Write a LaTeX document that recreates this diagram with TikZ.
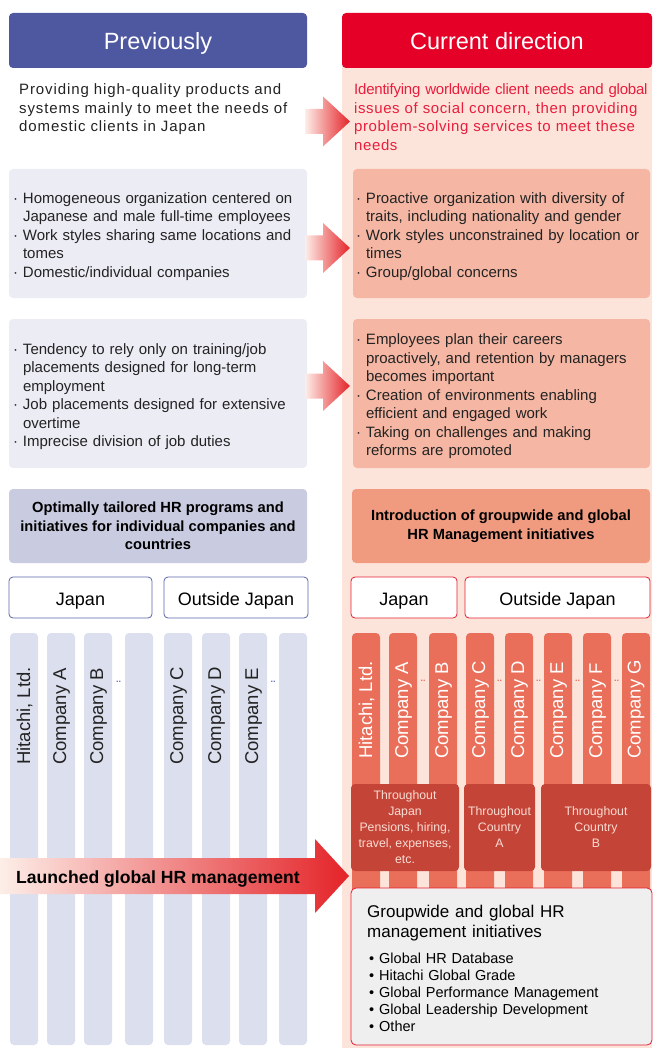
\documentclass[tikz,border=0pt]{standalone}
\usepackage{fontspec}
\setmainfont{Liberation Sans}
\usetikzlibrary{calc}
\definecolor{hdrblue}{RGB}{78,88,160}
\definecolor{hdrred}{RGB}{229,0,40}
\definecolor{pinkbg}{RGB}{253,228,219}
\definecolor{leftbox}{RGB}{236,236,245}
\definecolor{rightbox}{RGB}{245,183,163}
\definecolor{leftsum}{RGB}{201,203,224}
\definecolor{rightsum}{RGB}{240,155,128}
\definecolor{leftcol}{RGB}{220,223,238}
\definecolor{rightcol}{RGB}{234,111,90}
\definecolor{darkbox}{RGB}{196,68,56}
\definecolor{redtext}{RGB}{232,30,60}
\definecolor{greybox}{RGB}{239,239,239}
\definecolor{bluedots}{RGB}{100,110,190}
\definecolor{blueborder}{RGB}{90,100,170}
\definecolor{redborder}{RGB}{228,30,50}
\definecolor{arrowlight}{RGB}{253,238,232}
\definecolor{arrowred}{RGB}{228,35,40}
\definecolor{darktext}{RGB}{250,220,210}
\definecolor{bodytext}{RGB}{35,35,35}
\newcommand{\itemdot}{\makebox[10pt][l]{·}}
\newcommand{\itemind}{\hspace*{10pt}}
\newcommand{\bigdot}{\makebox[10pt][l]{•}}
\newcommand{\firststrut}{\rule{0pt}{17pt}}
\newcommand{\rowarrow}[1]{\shade[left color=arrowlight, right color=arrowred]
  (305,#1-12.5) -- (323,#1-12.5) -- (323,#1-25) -- (350,#1) -- (323,#1+25) -- (323,#1+12.5) -- (305,#1+12.5) -- cycle;}
\begin{document}
\begin{tikzpicture}[x=1pt,y=-1pt,
  hdrbox/.style={rounded corners=4pt, inner sep=0, text=white, text height=19, text depth=0, font=\fontsize{23.5}{28}\selectfont},
  txt/.style={inner sep=0, anchor=base west, align=left, text=bodytext, font=\fontsize{15}{18.5}\selectfont},
  listbox/.style={rounded corners=4pt, inner xsep=4pt, inner ysep=0, align=left, text=bodytext, font=\fontsize{15}{18.5}\selectfont},
  sumbox/.style={rounded corners=4pt, inner sep=0, align=center, text=black, font=\bfseries\fontsize{14.7}{18.5}\selectfont},
  regbox/.style={rounded corners=4pt, fill=white, inner sep=0, line width=0.8pt, text=black, text height=15, text depth=0, font=\fontsize{18}{20}\selectfont},
  lcol/.style={rounded corners=4pt, fill=leftcol, inner sep=0, minimum width=28, minimum height=412},
  rcol/.style={rounded corners=4pt, fill=rightcol, inner sep=0, minimum width=28, minimum height=262},
  vlab/.style={rotate=90, anchor=west, inner sep=0, font=\fontsize{18.5}{20}\selectfont},
  dots/.style={inner sep=0, font=\bfseries\fontsize{9}{9}\selectfont},
  dbox/.style={rounded corners=4pt, fill=darkbox, inner sep=0, minimum height=87, align=center, text=darktext, font=\fontsize{12.3}{16}\selectfont},
]
\useasboundingbox (0,0) rectangle (655,1048);
% pink background of right side
\fill[pinkbg] (342,60) rectangle (652,1048);
% headers
\node[hdrbox, fill=hdrblue, minimum width=298, minimum height=55] (hprev) at (158,40.5) {Previously};
\node[hdrbox, fill=hdrred, minimum width=310, minimum height=55] (hcur) at (497,40.5) {Current direction};

% row 1
\node[txt, text width=281] (t1l) at (19,95) {\addfontfeatures{LetterSpace=6}\makebox[280pt][s]{Providing high-quality products and}\\
\addfontfeatures{LetterSpace=6}\makebox[280pt][s]{systems mainly to meet the needs of}\\
\addfontfeatures{LetterSpace=6}domestic clients in Japan};
\node[txt, text=redtext, text width=298] (t1r) at (354,95) {\addfontfeatures{LetterSpace=-1.5}\makebox[297pt][s]{Identifying worldwide client needs and global}\\
\addfontfeatures{LetterSpace=4}\makebox[297pt][s]{issues of social concern, then providing}\\
\addfontfeatures{LetterSpace=4}\makebox[297pt][s]{problem-solving services to meet these}\\
needs};
\rowarrow{121.5}

% row 2
\node[listbox, fill=leftbox, text width=290, minimum height=129] (l2) at (158,233.5) {\firststrut\itemdot Homogeneous organization centered on\\
\itemind Japanese and male full-time employees\\
\itemdot Work styles sharing same locations and\\
\itemind tomes\\
\itemdot Domestic/individual companies};
\node[listbox, fill=rightbox, inner xsep=3pt, text width=291, minimum height=129] (r2) at (501.5,233.5) {\firststrut\itemdot Proactive organization with diversity of\\
\itemind traits, including nationality and gender\\
\itemdot Work styles unconstrained by location or\\
\itemind times\\
\itemdot Group/global concerns};
\rowarrow{248}

% row 3
\node[listbox, fill=leftbox, text width=290, minimum height=149] (l3) at (158,393.5) {\firststrut\itemdot Tendency to rely only on training/job\\
\itemind placements designed for long-term\\
\itemind employment\\
\itemdot Job placements designed for extensive\\
\itemind overtime\\
\itemdot Imprecise division of job duties};
\node[listbox, fill=rightbox, inner xsep=3pt, text width=291, minimum height=149] (r3) at (501.5,393.5) {\firststrut\itemdot Employees plan their careers\\
\itemind proactively, and retention by managers\\
\itemind becomes important\\
\itemdot Creation of environments enabling\\
\itemind efficient and engaged work\\
\itemdot Taking on challenges and making\\
\itemind reforms are promoted};
\rowarrow{386}

% row 4
\node[sumbox, fill=leftsum, minimum width=298, minimum height=74] (s1) at (158,526) {Optimally tailored HR programs and\\initiatives for individual companies and\\countries};
\node[sumbox, fill=rightsum, minimum width=298, minimum height=74] (s2) at (501,526) {Introduction of groupwide and global\\HR Management initiatives};

% region boxes
\node[regbox, draw=blueborder, minimum width=143, minimum height=41] (jl1) at (80.5,597.5) {Japan};
\node[regbox, draw=blueborder, minimum width=144, minimum height=41] (jl2) at (236,597.5) {Outside Japan};
\node[regbox, draw=redborder, minimum width=106, minimum height=41] (jr1) at (404,597.5) {Japan};
\node[regbox, draw=redborder, minimum width=185, minimum height=41] (jr2) at (557.5,597.5) {Outside Japan};

% left columns
\foreach \x [count=\i] in {10,47,84,125,164,202,239,279}
  \node[lcol] (lc\i) at (\x+14,839) {};
\node[vlab, text=bodytext] (ll1) at (24.5,765) {Hitachi, Ltd.};
\node[vlab, text=bodytext] (ll2) at (61.5,765) {Company A};
\node[vlab, text=bodytext] (ll3) at (98.5,765) {Company B};
\node[vlab, text=bodytext] (ll5) at (178.5,765) {Company C};
\node[vlab, text=bodytext] (ll6) at (216.5,765) {Company D};
\node[vlab, text=bodytext] (ll7) at (253.5,765) {Company E};
\node[dots, text=bluedots] (ld1) at (118.5,682) {..};
\node[dots, text=bluedots] (ld2) at (273,682) {..};

% right columns
\foreach \x [count=\i] in {352,389,429,466,505,544,583,622}
  \node[rcol] (rc\i) at (\x+14,764) {};
\node[vlab, text=white] (rl1) at (366.5,759) {Hitachi, Ltd.};
\node[vlab, text=white] (rl2) at (403.5,759) {Company A};
\node[vlab, text=white] (rl3) at (443.5,759) {Company B};
\node[vlab, text=white] (rl4) at (480.5,759) {Company C};
\node[vlab, text=white] (rl5) at (519.5,759) {Company D};
\node[vlab, text=white] (rl6) at (558.5,759) {Company E};
\node[vlab, text=white] (rl7) at (597.5,759) {Company F};
\node[vlab, text=white] (rl8) at (636,759) {Company G};
\foreach \x [count=\i] in {423,499.5,538.5,577.5,616.5}
  \node[dots, text=rightcol] (rd\i) at (\x,681) {..};

% dark boxes
\node[dbox, minimum width=108] (db1) at (405,827.5) {Throughout\\Japan\\Pensions, hiring,\\travel, expenses,\\etc.};
\node[dbox, minimum width=71] (db2) at (499.5,827.5) {Throughout\\Country\\A};
\node[dbox, minimum width=110] (db3) at (596,827.5) {Throughout\\Country\\B};

% bottom grey box
\node[draw=redborder, fill=greybox, rounded corners=5pt, line width=0.8pt, inner sep=0, minimum width=301, minimum height=157] (gb) at (501.5,966.5) {};
\node[txt, text=black, text width=270, font=\fontsize{17}{20}\selectfont] (gbt) at (367,917) {Groupwide and global HR\\management initiatives};
\node[txt, text=black, text width=270, font=\fontsize{14.5}{17.2}\selectfont] (gbl) at (369,963) {\bigdot Global HR Database\\
\bigdot Hitachi Global Grade\\
\bigdot Global Performance Management\\
\bigdot Global Leadership Development\\
\bigdot Other};

% big arrow
\shade[left color=arrowlight, right color=arrowred] (0,858) -- (315,858) -- (315,839) -- (349,876) -- (315,913) -- (315,894) -- (0,894) -- cycle;
\node[txt, text=black, font=\bfseries\fontsize{17.6}{20}\selectfont] (ba) at (16,883) {Launched global HR management};
\end{tikzpicture}
\end{document}
